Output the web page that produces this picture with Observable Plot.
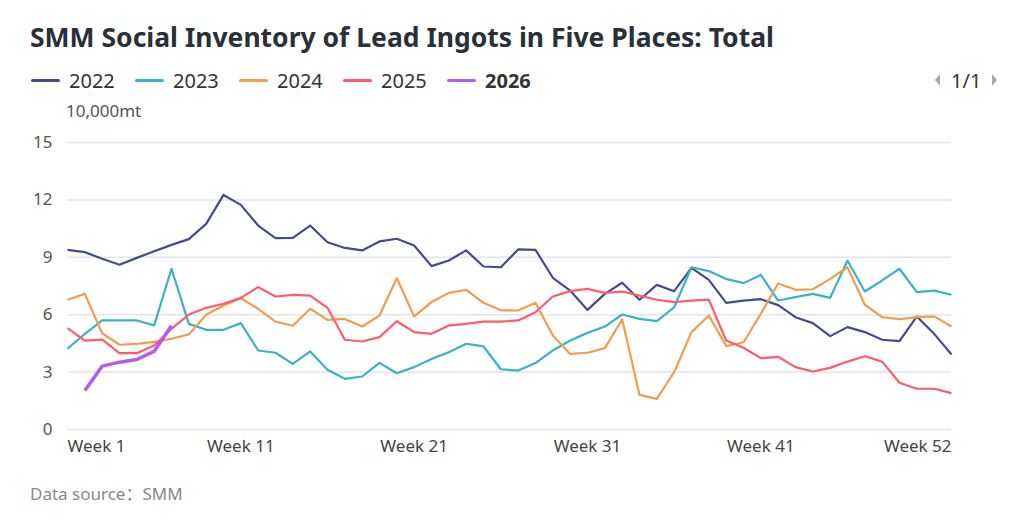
<!DOCTYPE html>
<html>
<head>
<meta charset="utf-8">
<script src="https://cdn.jsdelivr.net/npm/d3@7"></script>
<script src="https://cdn.jsdelivr.net/npm/@observablehq/plot@0.6"></script>
<style>
  html, body { margin:0; padding:0; background:#fff; }
  body { width:1024px; height:523px; position:relative; overflow:hidden; font-family:"Noto Sans", "Noto Sans CJK SC", sans-serif; }
  #title { position:absolute; left:30px; top:19px; font-size:26.5px; font-weight:bold; color:#2b2f36; white-space:nowrap; }
  #legend { position:absolute; left:0; top:68px; height:24px; width:1024px; }
  .item { position:absolute; top:0; display:flex; align-items:center; height:24px; font-size:20px; color:#333; }
  .sw { width:29px; height:3px; border-radius:2px; margin-right:9px; }
  #pager { position:absolute; left:935px; top:68px; height:24px; display:flex; align-items:center; font-size:20px; color:#333; }
  .tri-l { width:0; height:0; border-top:6px solid transparent; border-bottom:6px solid transparent; border-right:5px solid #aaa; margin-right:11px; }
  .tri-r { width:0; height:0; border-top:6px solid transparent; border-bottom:6px solid transparent; border-left:5px solid #aaa; margin-left:11px; }
  #unit { position:absolute; left:66px; top:99px; font-size:17px; color:#555; }
  #chart { position:absolute; left:0; top:120px; }
  #source { position:absolute; left:30px; top:480px; font-size:17px; color:#888; }
</style>
</head>
<body>
<div id="title">SMM Social Inventory of Lead Ingots in Five Places: Total</div>
<div id="legend"></div>
<div id="pager"><span class="tri-l"></span>1/1<span class="tri-r"></span></div>
<div id="unit">10,000mt</div>
<div id="chart"></div>
<div id="source">Data source：SMM</div>
<script>
const years = ["2022", "2023", "2024", "2025", "2026"];
const colors = ["#434c8c", "#3ab2c6", "#f09d4c", "#ff5b6b", "#b05cf7"];
const yTicks = [0, 3, 6, 9, 12, 15];
const xTickWeeks = [1, 11, 21, 31, 41, 52];

const s2022 = [9.39, 9.27, 8.92, 8.61, 8.97, 9.32, 9.65, 9.95, 10.75, 12.26,
  11.74, 10.66, 10.0, 10.02, 10.66, 9.79, 9.49, 9.36, 9.83, 9.97,
  9.62, 8.54, 8.83, 9.36, 8.52, 8.48, 9.41, 9.39, 7.93, 7.26,
  6.25, 7.09, 7.67, 6.78, 7.56, 7.23, 8.45, 7.82, 6.62, 6.74,
  6.81, 6.5, 5.87, 5.56, 4.88, 5.35, 5.09, 4.69, 4.62, 5.91,
  5.0, 3.92];
const s2023 = [4.22, 5.0, 5.7, 5.7, 5.7, 5.44, 8.4, 5.52, 5.21, 5.21,
  5.56, 4.13, 4.01, 3.43, 4.08, 3.12, 2.65, 2.77, 3.48, 2.94,
  3.26, 3.69, 4.04, 4.48, 4.34, 3.15, 3.08, 3.47, 4.13, 4.65,
  5.05, 5.38, 6.01, 5.78, 5.66, 6.39, 8.48, 8.28, 7.87, 7.65,
  8.08, 6.74, 6.92, 7.09, 6.88, 8.83, 7.21, 7.79, 8.4, 7.18,
  7.26, 7.04];
const s2024 = [6.78, 7.09, 5.03, 4.43, 4.48, 4.58, 4.74, 4.97, 6.0, 6.48,
  6.86, 6.31, 5.64, 5.42, 6.31, 5.73, 5.78, 5.38, 5.96, 7.91,
  5.91, 6.66, 7.14, 7.3, 6.62, 6.23, 6.22, 6.62, 4.91, 3.95,
  4.01, 4.25, 5.75, 1.81, 1.6, 3.0, 5.09, 5.96, 4.36, 4.56,
  6.05, 7.63, 7.3, 7.33, 7.87, 8.48, 6.52, 5.87, 5.77, 5.87,
  5.91, 5.38];
const s2025 = [5.3, 4.65, 4.7, 3.99, 3.99, 4.39, 5.26, 6.01, 6.36, 6.57,
  6.88, 7.44, 6.95, 7.04, 7.0, 6.36, 4.69, 4.6, 4.83, 5.66,
  5.09, 5.0, 5.44, 5.52, 5.64, 5.64, 5.7, 6.13, 6.95, 7.23,
  7.35, 7.14, 7.21, 7.0, 6.78, 6.66, 6.74, 6.79, 4.65, 4.27,
  3.73, 3.8, 3.26, 3.03, 3.22, 3.55, 3.83, 3.55, 2.44, 2.13,
  2.13, 1.9];
const s2026 = [null, 2.04, 3.31, 3.52, 3.66, 4.08, 5.42];

const series = [s2022, s2023, s2024, s2025, s2026];

// legend
const legend = document.getElementById("legend");
years.forEach((y, i) => {
  const it = document.createElement("div");
  it.className = "item";
  it.style.left = (31 + i * 104) + "px";
  if (i === years.length - 1) it.style.fontWeight = "bold";
  const sw = document.createElement("span");
  sw.className = "sw";
  sw.style.background = colors[i];
  it.appendChild(sw);
  it.appendChild(document.createTextNode(y));
  legend.appendChild(it);
});

const lineMarks = series.map((s, i) => {
  const data = s.map((v, k) => ({week: k + 1, value: v}));
  return Plot.line(data, {
    x: "week", y: "value",
    stroke: colors[i],
    strokeWidth: i === 4 ? 3.5 : 2.2,
    strokeLinejoin: "round", strokeLinecap: "butt"
  });
});

const fmt = d => `Week ${d}`;
const chart = Plot.plot({
  width: 1024,
  height: 350,
  marginTop: 22,
  marginBottom: 41,
  marginLeft: 67,
  marginRight: 73,
  style: {fontFamily: '"Noto Sans", sans-serif', fontSize: "17px", color: "#555", background: "transparent"},
  x: {domain: [1, 52]},
  y: {domain: [0, 15]},
  marks: [
    Plot.gridY(yTicks, {stroke: "#e4e4ea", strokeOpacity: 1, strokeWidth: 1.5}),
    Plot.axisY(yTicks, {tickSize: 0, tickPadding: 15, label: null, fill: "#555"}),
    Plot.axisX(xTickWeeks.slice(0, 1), {tickSize: 0, tickPadding: 10, textAnchor: "start", tickFormat: fmt, label: null, fill: "#444"}),
    Plot.axisX(xTickWeeks.slice(1, -1), {tickSize: 0, tickPadding: 10, tickFormat: fmt, label: null, fill: "#444"}),
    Plot.axisX(xTickWeeks.slice(-1), {tickSize: 0, tickPadding: 10, textAnchor: "end", tickFormat: fmt, label: null, fill: "#444"}),
    ...lineMarks
  ]
});
document.getElementById("chart").appendChild(chart);
</script>
</body>
</html>
